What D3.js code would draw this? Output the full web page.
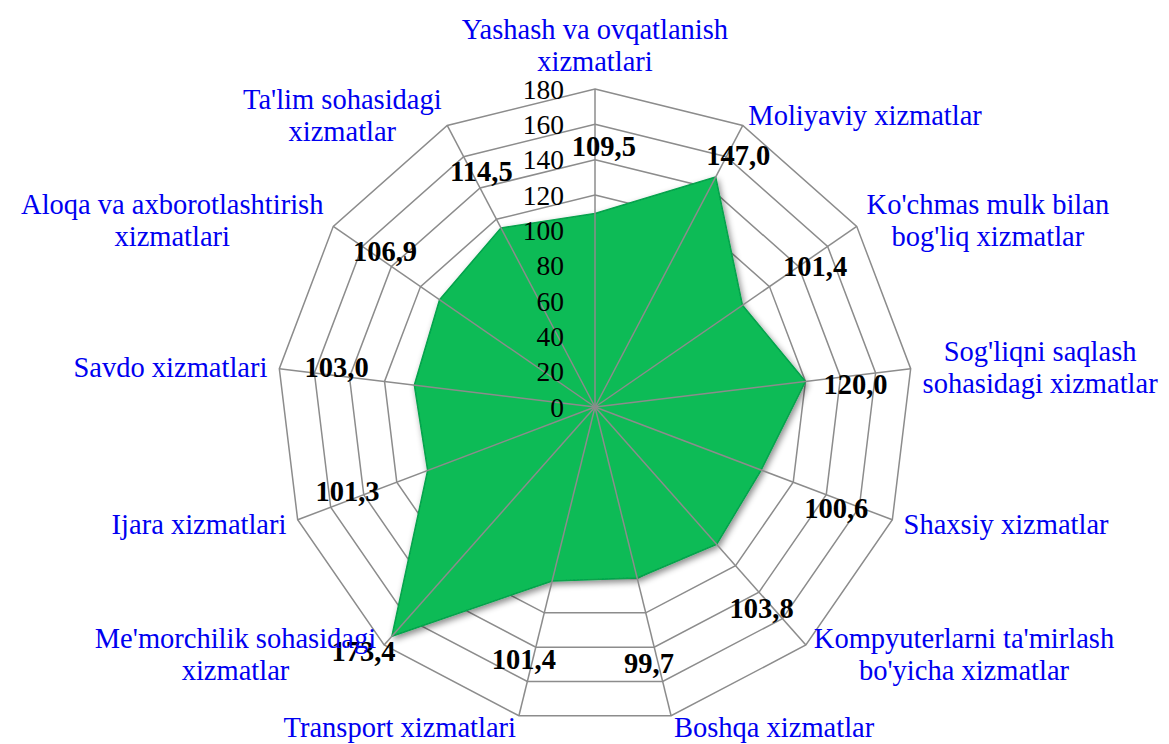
<!DOCTYPE html>
<html>
<head>
<style>
  body {
    margin: 0;
    background-color: #ffffff;
  }

  text {
    font-family: "Liberation Serif", "Times New Roman", Times, serif;
  }
</style>
  <script src="https://d3js.org/d3.v7.min.js"></script>
</head>
<body>
<script>
// radar chart - services growth, 13 categories

const categories = [
  "Yashash va ovqatlanish\nxizmatlari",
  "Moliyaviy xizmatlar",
  "Ko'chmas mulk bilan\nbog'liq xizmatlar",
  "Sog'liqni saqlash\nsohasidagi xizmatlar",
  "Shaxsiy xizmatlar",
  "Kompyuterlarni ta'mirlash\nbo'yicha xizmatlar",
  "Boshqa xizmatlar",
  "Transport xizmatlari",
  "Me'morchilik sohasidagi\nxizmatlar",
  "Ijara xizmatlari",
  "Savdo xizmatlari",
  "Aloqa va axborotlashtirish\nxizmatlari",
  "Ta'lim sohasidagi\nxizmatlar"
];

const values = [109.5, 147.0, 101.4, 120.0, 100.6, 103.8, 99.7, 101.4, 173.4, 101.3, 103.0, 106.9, 114.5];

const tickValues = [0, 20, 40, 60, 80, 100, 120, 140, 160, 180];

const width = 1169;
const height = 744;
const cx = 595;
const cy = 407;

const svg = d3.select('body')
  .append('svg')
  .attr('width', width)
  .attr('height', height);

const defs = svg.append('defs');
const shadow = defs.append('filter')
  .attr('id', 'shadow')
  .attr('x', '-20%').attr('y', '-20%')
  .attr('width', '140%').attr('height', '140%');
shadow.append('feDropShadow')
  .attr('dx', 2)
  .attr('dy', 3)
  .attr('stdDeviation', 3)
  .attr('flood-color', '#000')
  .attr('flood-opacity', 0.45);

const r = d3.scaleLinear()
  .domain([0, 180])
  .range([0, 318]);

const angle = d3.scaleLinear()
  .domain([0, categories.length])
  .range([0, 2 * Math.PI]);

// x/y from index + value, angle measured clockwise from the top
const px = (i, v) => cx + r(v) * Math.sin(angle(i));
const py = (i, v) => cy - r(v) * Math.cos(angle(i));

const fmt = d3.formatLocale({ decimal: ',', thousands: ' ', grouping: [3], currency: ['', ''] }).format('.1f');

const g = svg.append('g');

// rings
g.selectAll('.ring')
  .data(tickValues.filter(d => d > 0))
  .join('polygon')
  .attr('class', 'ring')
  .attr('points', t => categories.map((c, i) => [px(i, t), py(i, t)].join(',')).join(' '))
  .attr('fill', 'none')
  .attr('stroke', '#8c8c8c')
  .attr('stroke-width', 1.5);

// data area
g.append('polygon')
  .attr('points', values.map((v, i) => [px(i, v), py(i, v)].join(',')).join(' '))
  .attr('fill', '#08bb57')
  .attr('stroke', '#07a24b')
  .attr('stroke-width', 1.5)
  .attr('stroke-linejoin', 'round')
  .attr('filter', 'url(#shadow)');

// spokes
g.selectAll('.spoke')
  .data(categories)
  .join('line')
  .attr('class', 'spoke')
  .attr('x1', cx)
  .attr('y1', cy)
  .attr('x2', (c, i) => px(i, 180))
  .attr('y2', (c, i) => py(i, 180))
  .attr('stroke', '#8c8c8c')
  .attr('stroke-width', 1.5);

// value axis labels
g.selectAll('.tick')
  .data(tickValues)
  .join('text')
  .attr('class', 'tick')
  .attr('x', cx - 31)
  .attr('y', t => cy - r(t))
  .attr('dy', '0.35em')
  .attr('text-anchor', 'end')
  .attr('font-size', 27.5)
  .attr('fill', '#000')
  .text(t => t);

// data labels
g.selectAll('.val')
  .data(values)
  .join('text')
  .attr('class', 'val')
  .attr('x', (v, i) => px(i + 0.07, Math.max(v + 17, 148)))
  .attr('y', (v, i) => py(i + 0.07, Math.max(v + 17, 148)))
  .attr('dy', '0.35em')
  .attr('text-anchor', 'middle')
  .attr('font-size', 28.5)
  .attr('font-weight', 'bold')
  .attr('fill', '#000')
  .text(v => fmt(v));

// category labels
const lineH = 32;
const labelR = 330;
categories.forEach((c, i) => {
  const lines = c.split('\n');
  const a = angle(i);
  const x0 = cx + labelR * Math.sin(a);
  const y0 = cy - labelR * Math.cos(a);
  const t = g.append('text')
    .attr('font-size', 28.5)
    .attr('fill', '#0000f0')
    .attr('text-anchor', 'middle');
  const spans = lines.map(l => t.append('tspan').text(l));
  const w = d3.max(spans, s => s.node().getComputedTextLength());
  let xc, yTop;
  if (Math.abs(Math.sin(a)) < 0.01) {
    xc = x0;
    yTop = y0 - lines.length * lineH;
  } else if (Math.sin(a) > 0) {
    xc = x0 + w / 2;
    yTop = y0 - lines.length * lineH / 2;
  } else {
    xc = x0 - w / 2;
    yTop = y0 - lines.length * lineH / 2;
  }
  spans.forEach((s, k) => {
    s.attr('x', xc)
      .attr('y', yTop + (k + 0.5) * lineH)
      .attr('dy', '0.35em');
  });
});
</script>
</body>
</html>
